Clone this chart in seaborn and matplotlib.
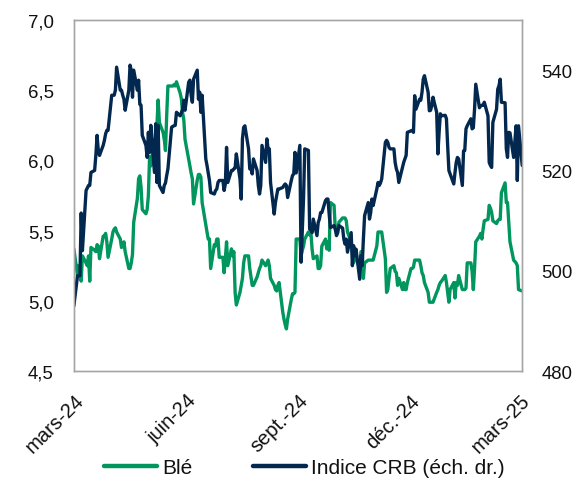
import matplotlib
matplotlib.use("Agg")
import matplotlib.pyplot as plt
from matplotlib.lines import Line2D
from matplotlib.ticker import FuncFormatter, FixedLocator
from matplotlib.transforms import ScaledTranslation
import pandas as pd
import seaborn as sns

# Wheat price (left axis) and CRB commodity index (right axis), daily closes
ble = [
    5.37, 5.18, 5.25, 5.18, 5.14, 5.32, 5.27, 5.25, 5.32, 5.14,
    5.38, 5.36, 5.35, 5.40, 5.39, 5.30, 5.46, 5.46, 5.48, 5.42,
    5.31, 5.44, 5.49, 5.51, 5.52, 5.49, 5.44, 5.38, 5.39, 5.42,
    5.35, 5.23, 5.23, 5.27, 5.33, 5.56, 5.73, 5.87, 5.89, 5.81,
    5.65, 5.62, 5.65, 5.75, 6.03, 5.96, 6.15, 5.96, 6.25, 6.43,
    6.27, 6.20, 6.15, 6.07, 6.32, 6.53, 6.53, 6.53, 6.54, 6.53,
    6.56, 6.48, 6.44, 6.34, 6.29, 6.15, 6.01, 5.96, 5.91, 5.87,
    5.69, 5.86, 5.90, 5.90, 5.88, 5.70, 5.54, 5.49, 5.44, 5.44,
    5.23, 5.40, 5.39, 5.44, 5.44, 5.31, 5.31, 5.20, 5.30, 5.42,
    5.25, 5.37, 5.32, 5.35, 5.06, 4.97, 5.06, 5.11, 5.16, 5.27,
    5.32, 5.32, 5.23, 5.17, 5.11, 5.11, 5.17, 5.20, 5.23, 5.25,
    5.29, 5.25, 5.27, 5.29, 5.25, 5.16, 5.11, 5.08, 5.07, 5.11,
    5.13, 4.92, 4.87, 4.83, 4.80, 4.87, 5.01, 5.05, 5.05, 5.06,
    5.44, 5.44, 5.32, 5.36, 5.39, 5.44, 5.49, 5.47, 5.49, 5.37,
    5.30, 5.32, 5.23, 5.23, 5.25, 5.39, 5.44, 5.37, 5.42, 5.36,
    5.70, 5.68, 5.51, 5.49, 5.51, 5.56, 5.59, 5.59, 5.59, 5.57,
    5.49, 5.42, 5.35, 5.27, 5.35, 5.31, 5.23, 5.35, 5.35, 5.16,
    5.27, 5.29, 5.29, 5.29, 5.29, 5.29, 5.39, 5.49, 5.49, 5.49,
    5.49, 5.30, 5.06, 5.08, 5.16, 5.23, 5.25, 5.21, 5.20, 5.11,
    5.16, 5.08, 5.13, 5.08, 5.08, 5.13, 5.23, 5.23, 5.24, 5.29,
    5.29, 5.29, 5.25, 5.20, 5.18, 5.13, 5.06, 4.99, 4.99, 4.99,
    4.99, 5.06, 5.08, 5.11, 5.13, 5.14, 5.18, 5.13, 5.06, 4.99,
    5.08, 5.13, 5.02, 5.13, 5.11, 5.18, 5.08, 5.08, 5.08, 5.09,
    5.27, 5.27, 5.21, 5.08, 5.23, 5.42, 5.46, 5.48, 5.44, 5.51,
    5.57, 5.58, 5.68, 5.66, 5.63, 5.57, 5.55, 5.57, 5.58, 5.58,
    5.77, 5.84, 5.70, 5.70, 5.56, 5.42, 5.29, 5.28, 5.27, 5.25,
    5.08, 5.07,
]

crb = [
    493.0, 499.0, 499.0, 499.0, 511.5, 504.0, 516.0, 516.5, 517.0, 517.0,
    519.6, 520.0, 523.0, 527.0, 524.0, 523.0, 525.0, 526.0, 527.3, 528.0,
    528.0, 535.0, 535.0, 535.0, 536.0, 540.6, 536.0, 536.0, 535.0, 534.2,
    532.0, 536.0, 541.0, 540.0, 534.6, 540.0, 536.0, 538.0, 533.2, 533.0,
    527.0, 525.0, 522.6, 527.6, 523.6, 529.0, 519.6, 529.3, 517.6, 529.0,
    517.0, 515.6, 517.0, 517.5, 519.0, 520.3, 528.6, 528.8, 528.9, 529.0,
    531.6, 530.9, 531.5, 532.2, 534.0, 532.0, 537.6, 538.0, 535.0, 533.6,
    538.2, 540.0, 534.2, 535.6, 531.6, 535.0, 522.3, 521.0, 519.5, 518.0,
    515.6, 515.3, 516.0, 516.3, 517.6, 518.0, 518.0, 516.0, 517.3, 524.6,
    517.6, 520.0, 520.0, 520.3, 520.5, 523.3, 518.3, 514.3, 526.3, 528.6,
    528.9, 524.3, 520.3, 520.5, 519.3, 522.3, 520.0, 517.0, 515.3, 517.0,
    525.0, 521.6, 526.3, 524.3, 524.3, 517.6, 511.3, 513.6, 515.0, 516.3,
    516.3, 516.6, 517.0, 517.3, 517.0, 514.6, 518.0, 519.0, 519.3, 523.6,
    519.5, 525.0, 501.7, 508.3, 514.3, 524.3, 524.0, 508.3, 508.3, 507.6,
    510.3, 507.0, 509.6, 510.3, 511.6, 511.6, 514.0, 514.3, 514.3, 511.3,
    508.6, 509.0, 508.3, 507.0, 507.6, 509.0, 508.5, 506.3, 505.3, 506.3,
    503.7, 507.6, 501.0, 505.0, 503.0, 504.3, 498.3, 503.0, 501.0, 506.3,
    511.0, 513.6, 510.3, 511.6, 514.3, 513.0, 516.3, 517.6, 517.0, 517.5,
    518.3, 525.6, 526.0, 525.6, 524.6, 524.3, 524.3, 521.6, 520.3, 519.6,
    517.6, 520.6, 521.6, 522.3, 523.0, 527.6, 527.9, 528.0, 527.6, 534.9,
    532.2, 534.2, 534.0, 535.6, 538.2, 538.9, 535.6, 531.9, 532.0, 532.9,
    534.6, 531.6, 523.3, 527.6, 531.3, 530.9, 531.0, 530.3, 524.9, 520.0,
    519.3, 517.3, 519.6, 521.6, 522.6, 522.3, 517.0, 523.9, 524.0, 528.3,
    528.9, 530.3, 528.3, 528.5, 532.2, 537.2, 532.5, 532.9, 533.0, 533.0,
    533.6, 530.9, 521.6, 521.0, 520.6, 529.6, 532.2, 536.2, 536.9, 538.2,
    533.6, 533.5, 524.3, 522.6, 527.6, 527.5, 522.6, 525.9, 528.9, 518.0,
    528.9, 521.0,
]

dates = pd.bdate_range(end="2025-03-03", periods=len(ble))
tick_dates = pd.to_datetime(["2024-03-01", "2024-06-01", "2024-09-01",
                             "2024-12-01", "2025-03-01"])
tick_labels = ["mars-24", "juin-24", "sept.-24", "déc.-24", "mars-25"]
left_ticks = [4.5, 5.0, 5.5, 6.0, 6.5, 7.0]
right_ticks = [480, 500, 520, 540]
series_names = ["Blé", "Indice CRB (éch. dr.)"]

df = pd.DataFrame({"date": dates, "ble": ble, "crb": crb})

sns.set_style("white")
plt.rcParams["font.family"] = ["Liberation Sans", "DejaVu Sans"]

GREEN = "#00965E"
NAVY = "#03284F"
SPINE = "#A6A6A6"
TEXT = "#111111"

fig = plt.figure(figsize=(5.77, 4.81), dpi=100)
ax1 = fig.add_axes([0.128, 0.2266, 0.777, 0.7297])
ax2 = ax1.twinx()

sns.lineplot(data=df, x="date", y="ble", ax=ax1, color=GREEN, linewidth=2.4, legend=False)
sns.lineplot(data=df, x="date", y="crb", ax=ax2, color=NAVY, linewidth=2.4, legend=False)

ax1.set_xlim(dates[0], dates[-1])
ax1.set_ylim(4.5, 7.0)
ax2.set_ylim(480, 550)
ax1.yaxis.set_major_locator(FixedLocator(left_ticks))
ax2.yaxis.set_major_locator(FixedLocator(right_ticks))
ax1.yaxis.set_major_formatter(FuncFormatter(lambda v, p: f"{v:.1f}".replace(".", ",")))
ax2.yaxis.set_major_formatter(FuncFormatter(lambda v, p: f"{v:.0f}"))

ax1.set_xticks(tick_dates)
ax1.set_xticklabels(tick_labels, rotation=45, ha="right", va="top",
                    rotation_mode="anchor")
shift = ScaledTranslation(0.035, 0, fig.dpi_scale_trans)
for lab in ax1.get_xticklabels():
    lab.set_transform(lab.get_transform() + shift)

for ax in (ax1, ax2):
    ax.set_xlabel("")
    ax.set_ylabel("")
    ax.grid(False)
    for s in ax.spines.values():
        s.set_visible(True)
        s.set_color(SPINE)
        s.set_linewidth(1.0)

ax1.tick_params(axis="y", length=0, pad=14.5, labelsize=13.4, labelcolor=TEXT)
ax2.tick_params(axis="y", length=0, pad=14, labelsize=13.4, labelcolor=TEXT)
ax1.tick_params(axis="x", length=0, pad=14, labelsize=14.5, labelcolor=TEXT)

handles = [Line2D([0], [0], color=GREEN, linewidth=3.2),
           Line2D([0], [0], color=NAVY, linewidth=3.2)]
fig.legend(handles, series_names, loc="center", bbox_to_anchor=(0.527, 0.025),
           ncol=2, frameon=False, fontsize=15, handlelength=2.55,
           handletextpad=0.24, columnspacing=2.9, labelcolor=TEXT)

fig.savefig("out.png", dpi=100)
